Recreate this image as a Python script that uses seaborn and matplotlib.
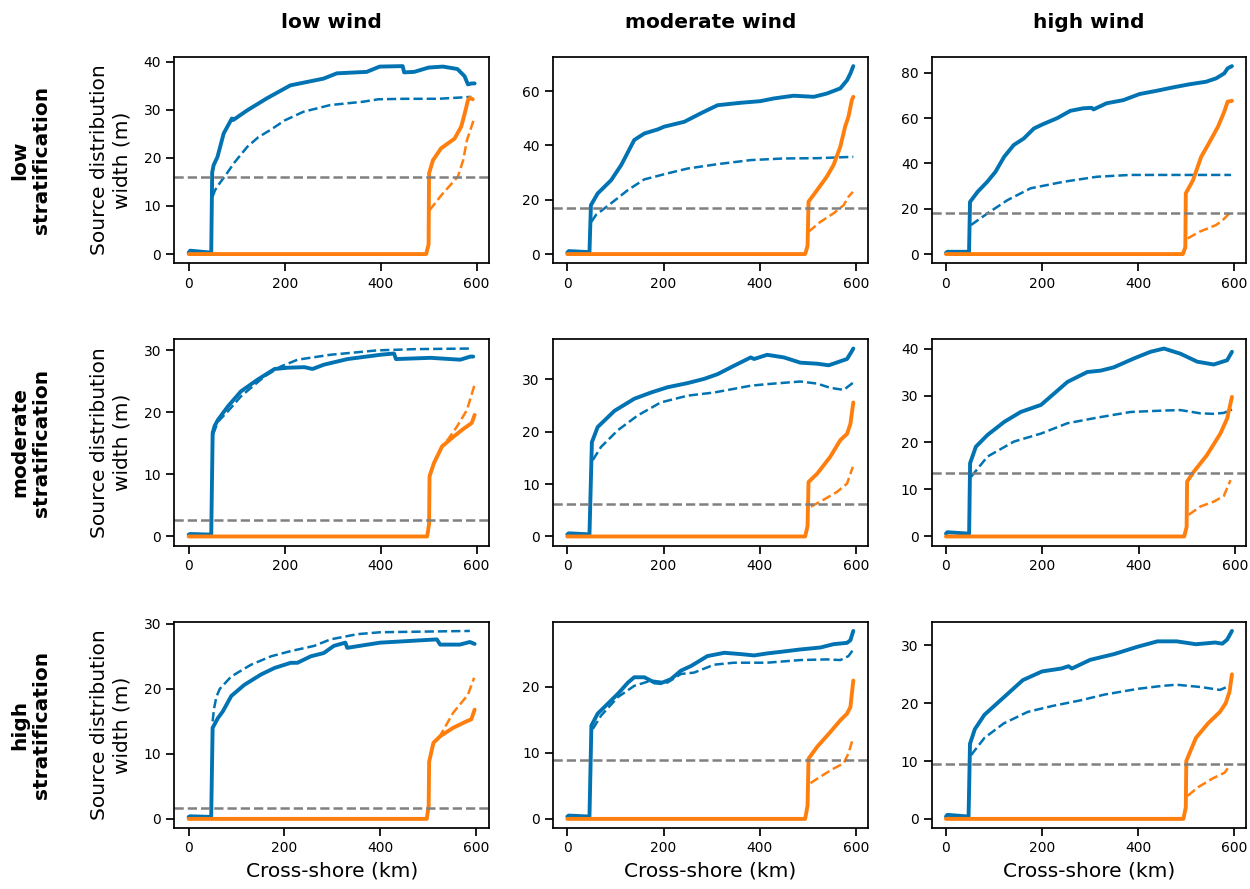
import matplotlib
matplotlib.use("Agg")
import matplotlib.pyplot as plt
import seaborn as sns
import numpy as np
import pandas as pd
from matplotlib.ticker import MultipleLocator

# ---------------- data ----------------
col_titles = ["low wind", "moderate wind", "high wind"]
row_titles = ["low\nstratification", "moderate\nstratification", "high\nstratification"]
x_ticks = [0, 200, 400, 600]

# low stratification, low wind
ll_bs_x = [0, 3, 47, 49, 52, 60, 73, 90, 93, 122, 163, 212, 281, 309, 371, 398, 446, 449, 470, 500, 530, 560, 575, 582, 590, 596]
ll_bs_y = [0.3, 0.7, 0.3, 17.0, 18.5, 20.2, 25.1, 28.2, 27.9, 29.9, 32.4, 35.1, 36.5, 37.6, 37.9, 39.0, 39.1, 37.8, 37.9, 38.8, 39.0, 38.5, 37.0, 35.3, 35.5, 35.5]
ll_bd_x = [50, 55, 65, 77, 95, 122, 145, 170, 200, 239, 295, 364, 395, 450, 520, 589]
ll_bd_y = [12.0, 13.3, 14.8, 16.4, 19.0, 22.3, 24.3, 25.8, 27.8, 29.6, 31.0, 31.7, 32.2, 32.3, 32.3, 32.7]
ll_os_x = [0, 495, 500, 501, 509, 526, 554, 568, 577, 582, 586, 592]
ll_os_y = [0, 0, 2, 16.8, 19.5, 22.0, 24.0, 26.5, 29.9, 32.0, 32.5, 32.2]
ll_od_x = [502, 527, 561, 572, 580, 596]
ll_od_y = [9.1, 12.3, 16.1, 19.5, 23.7, 28.5]

# low stratification, moderate wind
lm_bs_x = [0, 3, 46, 49, 63, 91, 112, 139, 160, 188, 201, 243, 277, 312, 360, 401, 429, 470, 512, 539, 567, 581, 588, 594]
lm_bs_y = [0.5, 1.1, 0.7, 18.0, 22.3, 27.2, 32.8, 42.0, 44.4, 45.9, 46.9, 48.7, 51.8, 54.8, 55.7, 56.3, 57.3, 58.3, 57.9, 59.1, 61.0, 64.0, 66.5, 69.2]
lm_bd_x = [50, 60, 91, 126, 160, 208, 250, 312, 381, 450, 519, 594]
lm_bd_y = [11.9, 14.5, 18.7, 23.6, 27.5, 29.7, 31.5, 33.1, 34.6, 35.2, 35.3, 35.8]
lm_os_x = [0, 494, 499, 501, 519, 539, 553, 567, 577, 584, 591, 594]
lm_os_y = [0, 0, 3, 19.3, 23.6, 28.5, 32.8, 39.5, 46.9, 50.6, 56.7, 57.9]
lm_od_x = [501, 526, 553, 574, 584, 593]
lm_od_y = [8.2, 11.9, 15.0, 18.0, 21.1, 22.9]

# low stratification, high wind
lh_bs_x = [0, 3, 48, 50, 66, 86, 103, 121, 141, 162, 183, 203, 231, 259, 286, 303, 307, 334, 369, 403, 438, 472, 507, 541, 562, 579, 586, 595]
lh_bs_y = [0.5, 1.0, 1.0, 23.0, 27.5, 31.9, 36.3, 42.9, 48.1, 51.0, 55.4, 57.4, 59.9, 63.2, 64.3, 64.5, 63.8, 66.5, 67.9, 70.6, 72.0, 73.5, 74.9, 76.0, 77.5, 79.7, 81.9, 82.9]
lh_bd_x = [52, 70, 86, 128, 176, 245, 314, 383, 452, 521, 593]
lh_bd_y = [12.8, 15.5, 17.9, 23.8, 29.0, 31.9, 34.1, 34.9, 34.9, 34.9, 34.9]
lh_os_x = [0, 493, 498, 499, 514, 531, 545, 566, 579, 586, 595]
lh_os_y = [0, 0, 3, 26.8, 32.6, 42.9, 48.1, 56.2, 62.8, 67.2, 67.6]
lh_od_x = [503, 528, 562, 576, 593]
lh_od_y = [6.9, 9.9, 12.8, 15.0, 18.7]

# moderate stratification, low wind
ml_bs_x = [0, 3, 47, 50, 54, 61, 82, 109, 144, 179, 206, 241, 258, 282, 331, 400, 428, 432, 504, 566, 587, 593]
ml_bs_y = [0.3, 0.4, 0.3, 16.7, 17.8, 18.8, 21.0, 23.4, 25.3, 27.0, 27.2, 27.3, 27.0, 27.7, 28.6, 29.3, 29.5, 28.6, 28.8, 28.5, 29.0, 29.0]
ml_bd_x = [51, 61, 82, 109, 158, 192, 227, 296, 393, 470, 590]
ml_bd_y = [16.5, 18.5, 20.2, 22.6, 25.8, 27.4, 28.5, 29.3, 30.0, 30.2, 30.3]
ml_os_x = [0, 497, 501, 502, 511, 528, 549, 570, 590, 596]
ml_os_y = [0, 0, 2, 9.7, 11.8, 14.5, 15.9, 17.2, 18.3, 19.6]
ml_od_x = [502, 511, 528, 540, 559, 580, 596]
ml_od_y = [9.7, 11.9, 14.6, 15.6, 17.7, 20.4, 24.5]

# moderate stratification, moderate wind
mm_bs_x = [0, 3, 46, 51, 63, 98, 139, 174, 208, 250, 284, 312, 346, 381, 388, 415, 450, 484, 519, 543, 581, 591, 594]
mm_bs_y = [0.4, 0.6, 0.4, 18.0, 20.9, 24.0, 26.3, 27.5, 28.5, 29.3, 30.1, 31.0, 32.6, 34.2, 33.9, 34.7, 34.2, 33.2, 33.0, 32.7, 33.9, 35.4, 35.9]
mm_bd_x = [53, 70, 105, 146, 194, 250, 305, 381, 415, 484, 519, 546, 574, 594]
mm_bd_y = [14.6, 17.1, 20.3, 23.1, 25.6, 26.9, 27.5, 28.8, 29.1, 29.6, 29.2, 28.4, 28.0, 29.4]
mm_os_x = [0, 494, 499, 501, 519, 546, 567, 581, 588, 594]
mm_os_y = [0, 0, 2, 10.4, 12.0, 15.2, 18.4, 19.6, 21.5, 25.6]
mm_od_x = [506, 532, 560, 581, 593]
mm_od_y = [5.7, 7.0, 8.5, 10.1, 13.3]

# moderate stratification, high wind
mh_bs_x = [0, 3, 48, 50, 62, 86, 121, 155, 197, 224, 252, 293, 321, 348, 390, 424, 452, 486, 521, 555, 583, 593]
mh_bs_y = [0.6, 0.9, 0.6, 15.6, 19.1, 21.6, 24.4, 26.5, 28.0, 30.4, 32.9, 35.0, 35.3, 36.0, 37.9, 39.3, 40.0, 38.9, 37.2, 36.6, 37.5, 39.3]
mh_bd_x = [52, 86, 141, 197, 252, 314, 383, 452, 486, 528, 555, 576, 593]
mh_bd_y = [12.7, 17.0, 20.2, 21.9, 24.1, 25.3, 26.5, 26.8, 26.9, 26.2, 26.1, 26.3, 27.0]
mh_os_x = [0, 494, 499, 500, 514, 541, 569, 583, 593]
mh_os_y = [0, 0, 2, 11.7, 13.8, 17.3, 21.9, 25.1, 29.7]
mh_od_x = [503, 528, 555, 576, 590]
mh_od_y = [4.6, 6.4, 7.4, 8.6, 12.0]

# high stratification, low wind
hl_bs_x = [0, 3, 47, 50, 61, 71, 89, 116, 151, 179, 213, 227, 255, 282, 303, 327, 331, 365, 400, 518, 525, 566, 587, 597]
hl_bs_y = [0.3, 0.4, 0.3, 14.0, 15.5, 16.5, 18.9, 20.6, 22.2, 23.2, 24.0, 24.0, 25.0, 25.5, 26.6, 27.1, 26.3, 26.7, 27.1, 27.6, 26.8, 26.8, 27.2, 26.9]
hl_bd_x = [50, 53, 58, 65, 89, 130, 172, 213, 262, 296, 352, 400, 587]
hl_bd_y = [15.0, 17.0, 18.8, 20.0, 21.9, 23.7, 25.0, 25.8, 26.6, 27.6, 28.4, 28.7, 28.9]
hl_os_x = [0, 497, 501, 502, 511, 525, 552, 580, 590, 597]
hl_os_y = [0, 0, 2, 8.8, 11.7, 12.7, 14.0, 15.0, 15.3, 16.8]
hl_od_x = [502, 511, 525, 552, 583, 596]
hl_od_y = [8.8, 11.7, 12.8, 16.3, 19.1, 21.7]

# high stratification, moderate wind
hm_bs_x = [0, 3, 46, 50, 63, 84, 105, 126, 139, 160, 181, 194, 215, 236, 257, 291, 326, 360, 388, 415, 450, 484, 526, 553, 581, 588, 594]
hm_bs_y = [0.35, 0.5, 0.35, 14.1, 15.9, 17.4, 18.9, 20.6, 21.4, 21.4, 20.6, 20.5, 21.1, 22.4, 23.1, 24.6, 25.1, 24.9, 24.7, 25.0, 25.3, 25.6, 25.9, 26.4, 26.6, 27.0, 28.4]
hm_bd_x = [53, 70, 105, 139, 174, 208, 236, 263, 305, 346, 415, 484, 539, 567, 584, 594]
hm_bd_y = [13.6, 15.6, 18.4, 20.1, 20.9, 20.6, 21.9, 22.1, 23.3, 23.6, 23.6, 24.0, 24.1, 24.0, 24.6, 25.6]
hm_os_x = [0, 494, 499, 501, 519, 546, 567, 581, 588, 594]
hm_os_y = [0, 0, 2, 9.1, 10.9, 13.1, 14.9, 15.9, 16.9, 20.9]
hm_od_x = [505, 526, 553, 574, 584, 593]
hm_od_y = [5.4, 6.4, 7.6, 8.4, 9.9, 12.1]

# high stratification, high wind
hh_bs_x = [0, 3, 47, 50, 60, 80, 120, 160, 200, 240, 255, 262, 300, 350, 400, 440, 480, 520, 560, 575, 585, 595]
hh_bs_y = [0.4, 0.7, 0.4, 13.0, 15.5, 18.0, 21.0, 24.0, 25.5, 26.0, 26.4, 26.0, 27.5, 28.5, 29.8, 30.7, 30.7, 30.2, 30.5, 30.3, 31.0, 32.5]
hh_bd_x = [52, 80, 120, 170, 220, 280, 330, 400, 450, 480, 530, 570, 590]
hh_bd_y = [11.0, 14.0, 16.5, 18.5, 19.5, 20.5, 21.5, 22.5, 23.0, 23.2, 22.8, 22.3, 23.0]
hh_os_x = [0, 494, 499, 500, 520, 545, 570, 582, 590, 595]
hh_os_y = [0, 0, 2, 10.0, 14.0, 16.5, 18.5, 20.0, 22.0, 25.0]
hh_od_x = [503, 525, 555, 580, 592]
hh_od_y = [4.0, 5.5, 7.0, 8.0, 9.5]

# threshold (grey dashed line) per panel, row-major
threshold = [16.0, 17.1, 17.9, 2.7, 6.2, 13.5, 1.6, 8.85, 9.5]
# y tick step per panel, row-major
y_step = [10, 20, 20, 10, 10, 10, 10, 10, 10]

panels = [
    (ll_bs_x, ll_bs_y, ll_bd_x, ll_bd_y, ll_os_x, ll_os_y, ll_od_x, ll_od_y),
    (lm_bs_x, lm_bs_y, lm_bd_x, lm_bd_y, lm_os_x, lm_os_y, lm_od_x, lm_od_y),
    (lh_bs_x, lh_bs_y, lh_bd_x, lh_bd_y, lh_os_x, lh_os_y, lh_od_x, lh_od_y),
    (ml_bs_x, ml_bs_y, ml_bd_x, ml_bd_y, ml_os_x, ml_os_y, ml_od_x, ml_od_y),
    (mm_bs_x, mm_bs_y, mm_bd_x, mm_bd_y, mm_os_x, mm_os_y, mm_od_x, mm_od_y),
    (mh_bs_x, mh_bs_y, mh_bd_x, mh_bd_y, mh_os_x, mh_os_y, mh_od_x, mh_od_y),
    (hl_bs_x, hl_bs_y, hl_bd_x, hl_bd_y, hl_os_x, hl_os_y, hl_od_x, hl_od_y),
    (hm_bs_x, hm_bs_y, hm_bd_x, hm_bd_y, hm_os_x, hm_os_y, hm_od_x, hm_od_y),
    (hh_bs_x, hh_bs_y, hh_bd_x, hh_bd_y, hh_os_x, hh_os_y, hh_od_x, hh_od_y),
]

# ---------------- style ----------------
sns.set_theme(style="ticks", context="notebook")
plt.rcParams["font.family"] = ["DejaVu Sans"]
plt.rcParams.update({
    "axes.linewidth": 1.25,
    "xtick.major.width": 1.25,
    "ytick.major.width": 1.25,
    "xtick.major.size": 6,
    "ytick.major.size": 6,
    "xtick.labelsize": 10,
    "ytick.labelsize": 10,
    "axes.edgecolor": "black",
    "xtick.color": "black",
    "ytick.color": "black",
    "text.color": "black",
    "axes.labelcolor": "black",
})

BLUE = "#0173B2"
ORANGE = "#FF7F0E"
GREY = "grey"

fig, axes = plt.subplots(3, 3, figsize=(12.5, 8.89), dpi=100)
fig.subplots_adjust(left=0.1395, right=0.997, top=0.9362, bottom=0.0683,
                    wspace=0.2037, hspace=0.366)

for i, ax in enumerate(axes.flat):
    bsx, bsy, bdx, bdy, osx, osy, odx, ody = panels[i]
    sns.lineplot(x=bsx, y=bsy, ax=ax, color=BLUE, lw=2.8, estimator=None, sort=False)
    sns.lineplot(x=bdx, y=bdy, ax=ax, color=BLUE, lw=1.8, linestyle="--", estimator=None, sort=False)
    sns.lineplot(x=osx, y=osy, ax=ax, color=ORANGE, lw=2.8, estimator=None, sort=False)
    sns.lineplot(x=odx, y=ody, ax=ax, color=ORANGE, lw=1.8, linestyle="--", estimator=None, sort=False)
    ax.axhline(threshold[i], color=GREY, lw=1.8, linestyle="--")
    ax.set_xticks(x_ticks)
    ax.yaxis.set_major_locator(MultipleLocator(y_step[i]))
    r, c = divmod(i, 3)
    if c == 0:
        ax.set_ylabel("Source distribution\nwidth (m)", fontsize=14.5, labelpad=9)
    else:
        ax.set_ylabel("")
    if r == 2:
        ax.set_xlabel("Cross-shore (km)", fontsize=14.5)
    else:
        ax.set_xlabel("")

for c in range(3):
    pos = axes[0, c].get_position()
    fig.text((pos.x0 + pos.x1) / 2, 1 - 22 / 889, col_titles[c], ha="center", va="center",
             fontsize=14.5, fontweight="bold")
for r in range(3):
    pos = axes[r, 0].get_position()
    fig.text(31 / 1250, (pos.y0 + pos.y1) / 2, row_titles[r], ha="center", va="center",
             rotation=90, fontsize=14.5, fontweight="bold", multialignment="center")

fig.savefig("out.png", dpi=100)
